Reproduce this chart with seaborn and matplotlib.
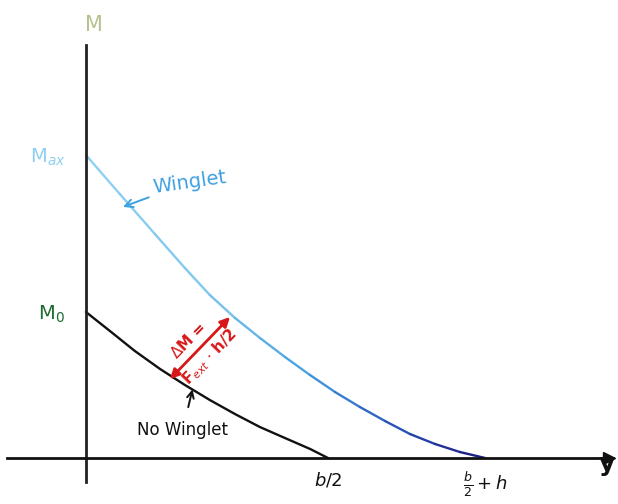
import numpy as np
import pandas as pd
import seaborn as sns
import matplotlib.pyplot as plt

# Bending moment sketch: span position (b/2 = 1) vs moment (M0 = 1)
winglet_y = [0.0, 0.140, 0.285, 0.409, 0.512, 0.616, 0.719, 0.822, 0.926,
             1.029, 1.132, 1.236, 1.339, 1.442, 1.545, 1.649]
winglet_m = [2.075, 1.808, 1.534, 1.301, 1.116, 0.959, 0.822, 0.692, 0.568,
             0.452, 0.349, 0.253, 0.164, 0.096, 0.041, 0.0]

nowing_y = [0.0, 0.099, 0.202, 0.306, 0.409, 0.512, 0.616, 0.719, 0.822, 0.926, 1.0]
nowing_m = [1.0, 0.870, 0.733, 0.610, 0.500, 0.397, 0.301, 0.212, 0.137, 0.062, 0.0]

x_ticks = [1.0, 1.649]
x_tick_labels = [r"$b/2$", r"$\frac{b}{2}+h$"]
y_ticks = [1.0, 2.075]
y_tick_labels = [r"M$_0$", r"M$_{ax}$"]
y_tick_colors = ["#1e6b2e", "#8fcff0"]

sns.set_style("white")
fig = plt.figure(figsize=(6.18, 5.04), dpi=100)
ax = fig.add_axes([0, 0, 1, 1])
ax.set_xlim(-0.355, 2.198)
ax.set_ylim(-0.315, 3.137)

# winglet curve, coloured from light to dark blue along the span
rows = []
for i in range(len(winglet_y) - 1):
    rows.append((winglet_y[i], winglet_m[i], i))
    rows.append((winglet_y[i + 1], winglet_m[i + 1], i))
seg_df = pd.DataFrame(rows, columns=["y", "M", "seg"])
pal = sns.blend_palette(["#8fd0f2", "#7cc6ee", "#4aa6e2", "#2a5cc0", "#1a1f86"],
                        len(winglet_y) - 1)
sns.lineplot(data=seg_df, x="y", y="M", hue="seg", palette=pal, units="seg",
             estimator=None, sort=False, legend=False, linewidth=1.7, ax=ax)

nw_df = pd.DataFrame({"y": nowing_y, "M": nowing_m})
sns.lineplot(data=nw_df, x="y", y="M", color="#111111", sort=False,
             linewidth=1.7, ax=ax)

# axes through the origin
for s in ["top", "right"]:
    ax.spines[s].set_visible(False)
ax.spines["left"].set_position(("data", 0))
ax.spines["bottom"].set_position(("data", 0))
ax.spines["left"].set_bounds(-0.165, 2.83)
ax.spines["bottom"].set_bounds(-0.325, 2.16)
ax.spines["left"].set_color("#222222")
ax.spines["bottom"].set_color("#111111")
ax.spines["left"].set_linewidth(2)
ax.spines["bottom"].set_linewidth(2)
ax.plot(2.16, 0, ">", color="#111111", markersize=8, clip_on=False)

ax.set_xticks(x_ticks)
ax.set_xticklabels(x_tick_labels, fontsize=13, fontweight="bold")
ax.set_yticks(y_ticks)
ax.set_yticklabels(y_tick_labels, fontsize=14)
for lab, c in zip(ax.get_yticklabels(), y_tick_colors):
    lab.set_color(c)
ax.tick_params(axis="x", direction="inout", length=14, width=2.5, pad=2, colors="#111111")
ax.tick_params(axis="y", direction="inout", length=10, width=1.5, pad=10)
ax.set_xlabel("")
ax.set_ylabel("")

ax.text(0.035, 2.966, "M", fontsize=15, color="#b5c28e", ha="center", va="center")
ax.text(2.15, -0.04, "y", fontsize=18, fontweight="bold", color="#111111",
        ha="center", va="center")

ax.annotate("Winglet", xy=(0.153, 1.72), xytext=(0.43, 1.89), fontsize=14,
            color="#3fa0e0", ha="center", va="center", rotation=8,
            arrowprops=dict(arrowstyle="->", color="#3fa0e0", lw=1.4,
                            shrinkA=28, shrinkB=0))
ax.annotate("No Winglet", xy=(0.44, 0.47), xytext=(0.40, 0.19), fontsize=12,
            color="#111111", ha="center", va="center",
            arrowprops=dict(arrowstyle="->", color="#111111", lw=1.4,
                            shrinkA=8, shrinkB=0))

# moment difference arrow
ax.annotate("", xy=(0.595, 0.966), xytext=(0.347, 0.54),
            arrowprops=dict(arrowstyle="<|-|>", color="#d81818", lw=2,
                            shrinkA=0, shrinkB=0, mutation_scale=14))
ax.text(0.424, 0.803, r"$\Delta$M =", fontsize=11, fontweight="bold",
        color="#d81818", ha="center", va="center", rotation=46,
        rotation_mode="anchor")
ax.text(0.513, 0.690, r"F$_{ext}$ $\cdot$ h/2", fontsize=11, fontweight="bold",
        color="#d81818", ha="center", va="center", rotation=46,
        rotation_mode="anchor")

fig.savefig("out.png", dpi=100)
